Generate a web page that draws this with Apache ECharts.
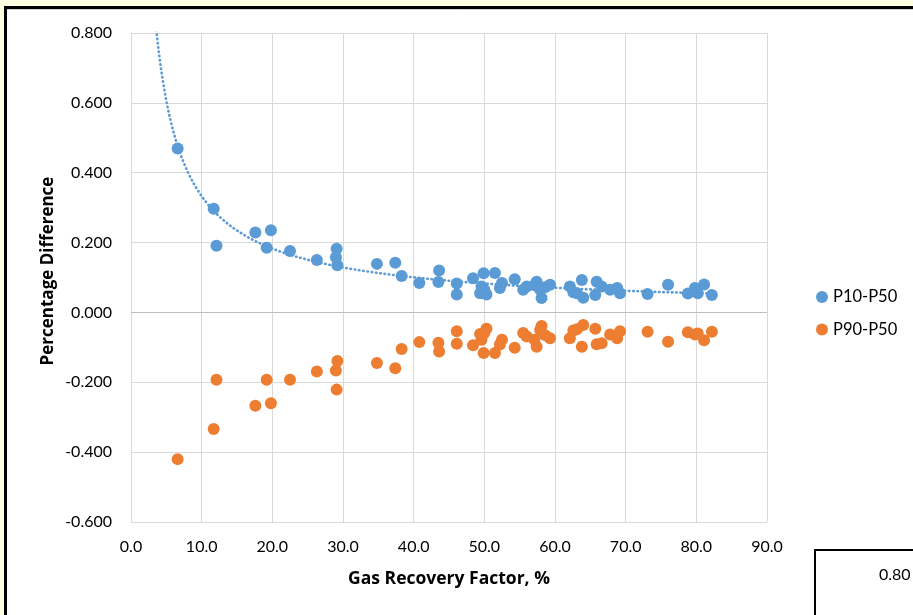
<!DOCTYPE html>
<html>
<head>
<meta charset="utf-8">
<script src="https://cdn.jsdelivr.net/npm/echarts@6/dist/echarts.min.js"></script>
<style>
  html, body { margin: 0; padding: 0; background: #FFFFE1; overflow: hidden; }
  #chart { width: 913px; height: 615px; }
</style>
</head>
<body>
<div id="chart"></div>
<script>
// Gas recovery factor (%) of each case
const recoveryFactor = [
  6.6, 11.7, 12.1, 17.6, 19.8, 19.2, 22.5, 26.3, 29.1, 29.0,
  29.2, 34.8, 37.4, 38.3, 40.8, 43.6, 43.5, 46.1, 46.1, 48.4,
  49.9, 51.5, 49.6, 50.3, 49.4, 50.0, 52.5, 52.2, 54.3, 55.5,
  56.0, 57.1, 57.4, 57.9, 58.1, 58.6, 59.3, 62.1, 62.6, 63.1,
  63.8, 64.0, 65.7, 65.9, 66.6, 67.8, 68.8, 69.2, 73.1, 76.0,
  78.8, 79.8, 80.2, 81.1, 82.2
];
// Percentage difference P10 vs P50
const p10p50 = [
  0.469, 0.297, 0.191, 0.229, 0.235, 0.185, 0.176, 0.150, 0.182, 0.158,
  0.135, 0.139, 0.142, 0.104, 0.084, 0.120, 0.087, 0.083, 0.051, 0.098,
  0.112, 0.113, 0.074, 0.051, 0.055, 0.065, 0.084, 0.070, 0.095, 0.065,
  0.074, 0.078, 0.088, 0.065, 0.041, 0.072, 0.079, 0.074, 0.058, 0.055,
  0.093, 0.042, 0.050, 0.088, 0.074, 0.065, 0.070, 0.055, 0.053, 0.079,
  0.054, 0.070, 0.055, 0.080, 0.050
];
// Percentage difference P90 vs P50
const p90p50 = [
  -0.420, -0.334, -0.193, -0.267, -0.260, -0.193, -0.193, -0.169, -0.221, -0.166,
  -0.139, -0.145, -0.160, -0.105, -0.085, -0.112, -0.087, -0.090, -0.054, -0.094,
  -0.116, -0.116, -0.078, -0.047, -0.062, -0.059, -0.078, -0.092, -0.101, -0.059,
  -0.069, -0.078, -0.098, -0.050, -0.039, -0.065, -0.074, -0.074, -0.052, -0.048,
  -0.098, -0.036, -0.047, -0.091, -0.088, -0.063, -0.074, -0.054, -0.055, -0.084,
  -0.057, -0.063, -0.060, -0.080, -0.055
];
const xTicks = { min: 0, max: 90, interval: 10 };
const yTicks = { min: -0.6, max: 0.8, interval: 0.2 };

const seriesNames = ['P10-P50', 'P90-P50'];
const xTitle = 'Gas Recovery Factor, %';
const yTitle = 'Percentage Difference';
const blue = '#5B9BD5';
const orange = '#ED7D31';
const font = 'Lato, "Liberation Sans", sans-serif';
const titleFont = '"Open Sans", Lato, sans-serif';

const p10Points = recoveryFactor.map((x, i) => [x, p10p50[i]]);
const p90Points = recoveryFactor.map((x, i) => [x, p90p50[i]]);

// Power-law trendline y = a * x^b fitted on the P10-P50 points (log-log least squares)
function powerFit(xs, ys) {
  const n = xs.length;
  let sx = 0, sy = 0, sxx = 0, sxy = 0;
  for (let i = 0; i < n; i++) {
    const lx = Math.log(xs[i]), ly = Math.log(ys[i]);
    sx += lx; sy += ly; sxx += lx * lx; sxy += lx * ly;
  }
  const b = (n * sxy - sx * sy) / (n * sxx - sx * sx);
  const a = Math.exp((sy - b * sx) / n);
  return { a, b };
}
const fit = powerFit(recoveryFactor, p10p50);
const xMaxData = Math.max(...recoveryFactor);
const trend = [];
for (let x = 2.5; x <= xMaxData + 1e-9; x += 0.25) {
  trend.push([x, fit.a * Math.pow(x, fit.b)]);
}

const chart = echarts.init(document.getElementById('chart'), null, { renderer: 'canvas' });
chart.setOption({
  backgroundColor: 'transparent',
  animation: false,
  textStyle: { fontFamily: font },
  graphic: [
    // white chart panel with black frame on its left and top
    { type: 'rect', z: -10, shape: { x: 7, y: 9, width: 920, height: 620 }, style: { fill: '#ffffff' } },
    { type: 'line', z: -9, shape: { x1: 5.5, y1: 7.5, x2: 920, y2: 7.5 }, style: { stroke: '#000', lineWidth: 3 } },
    { type: 'line', z: -9, shape: { x1: 5.5, y1: 6, x2: 5.5, y2: 620 }, style: { stroke: '#000', lineWidth: 3 } },
    { type: 'line', z: -9, shape: { x1: 7, y1: 9.5, x2: 920, y2: 9.5 }, style: { stroke: '#d0d0d0', lineWidth: 1 } },
    // neighbouring box in the lower right corner
    { type: 'rect', z: -8, shape: { x: 815, y: 550, width: 120, height: 80 },
      style: { fill: '#ffffff', stroke: '#000', lineWidth: 2 } },
    { type: 'text', z: -7, x: 879, y: 575,
      style: { text: '0.80', fontSize: 16, fontFamily: font, fill: '#000', verticalAlign: 'middle' } },
    // vertical axis title
    { type: 'text', z: 5, x: 48.5, y: 271, rotation: Math.PI / 2,
      style: { text: yTitle, fontSize: 17, fontWeight: 'bold', fontFamily: titleFont, fill: '#000',
               align: 'center', verticalAlign: 'middle' } }
  ],
  grid: { left: 131, right: 146, top: 33, bottom: 93, containLabel: false },
  legend: {
    orient: 'vertical',
    left: 816,
    top: 288.5,
    padding: 0,
    itemWidth: 12,
    itemHeight: 12,
    itemGap: 15.5,
    icon: 'circle',
    data: seriesNames,
    textStyle: { fontSize: 16.5, color: '#000', fontFamily: font }
  },
  xAxis: {
    type: 'value',
    min: xTicks.min, max: xTicks.max, interval: xTicks.interval,
    name: xTitle,
    nameLocation: 'middle',
    nameGap: 48,
    nameTextStyle: { fontSize: 17.5, fontWeight: 'bold', color: '#000', fontFamily: titleFont },
    axisLine: { show: false },
    axisTick: { show: false },
    axisLabel: { fontSize: 16, color: '#000', margin: 17, formatter: v => v.toFixed(1) },
    splitLine: { show: true, lineStyle: { color: '#d9d9d9', width: 1 } }
  },
  yAxis: {
    type: 'value',
    min: yTicks.min, max: yTicks.max, interval: yTicks.interval,
    axisLine: { show: true, lineStyle: { color: '#d9d9d9', width: 1 } },
    axisTick: { show: false },
    axisLabel: { fontSize: 16, color: '#000', margin: 19, formatter: v => v.toFixed(3) },
    splitLine: { show: true, lineStyle: { color: '#d9d9d9', width: 1 } }
  },
  series: [
    {
      name: 'trend',
      type: 'line',
      data: trend,
      showSymbol: false,
      symbol: 'none',
      smooth: false,
      clip: true,
      silent: true,
      z: 3,
      lineStyle: { color: blue, width: 2.6, type: [0.5, 3.8], cap: 'round' },
      markLine: {
        silent: true,
        symbol: 'none',
        label: { show: false },
        lineStyle: { color: '#bfbfbf', width: 1, type: 'solid' },
        data: [{ yAxis: 0 }]
      }
    },
    {
      name: seriesNames[0],
      type: 'scatter',
      data: p10Points,
      symbol: 'circle',
      symbolSize: 12,
      z: 4,
      itemStyle: { color: blue, opacity: 1 }
    },
    {
      name: seriesNames[1],
      type: 'scatter',
      data: p90Points,
      symbol: 'circle',
      symbolSize: 12,
      z: 4,
      itemStyle: { color: orange, opacity: 1 }
    }
  ]
});
</script>
</body>
</html>
